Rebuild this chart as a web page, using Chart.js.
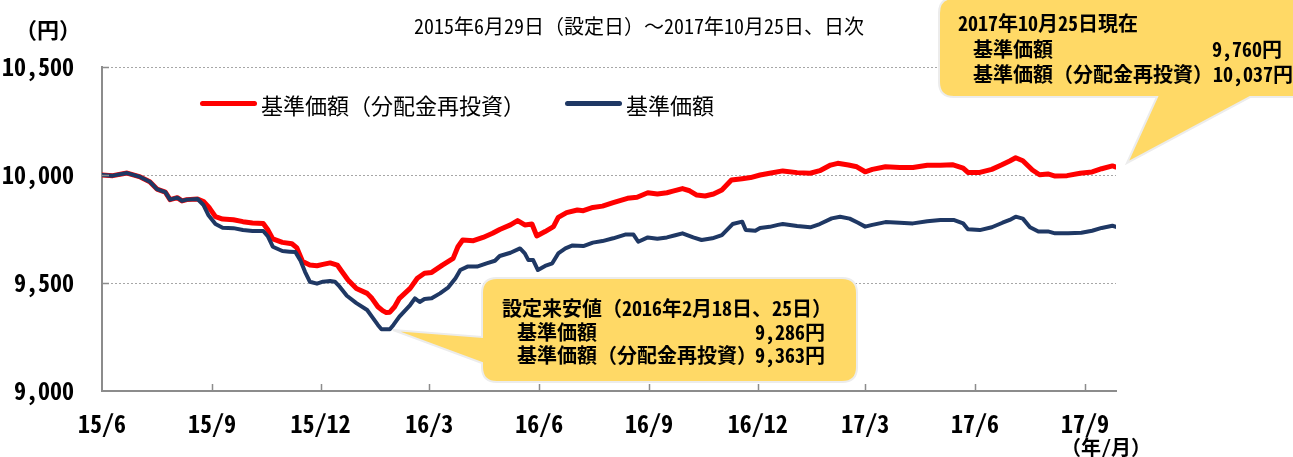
<!DOCTYPE html>
<html lang="ja">
<head>
<meta charset="utf-8">
<script src="https://cdn.jsdelivr.net/npm/chart.js@4.4.1/dist/chart.umd.min.js"></script>
<style>
  html, body { margin: 0; padding: 0; background: #fff; }
  #wrap {
    position: relative; width: 1293px; height: 457px; overflow: hidden;
    font-family: "Noto Sans Mono CJK JP", "Noto Sans CJK JP", sans-serif; color: #000;
  }
  #chart { position: absolute; left: 0; top: 0; }
  .txt { position: absolute; white-space: nowrap; line-height: 1; }
  .b { font-weight: bold; }
  #bubbles { position: absolute; left: 0; top: 0; }
  .leg-line { position: absolute; height: 5px; border-radius: 3px; }
</style>
</head>
<body>
<div id="wrap">
  <canvas id="chart" width="1293" height="457"></canvas>

  <div class="txt b" style="left:15px; top:17px; font-size:22px;">（円）</div>
  <div class="txt" style="left:639px; top:16px; font-size:20px; transform:translateX(-50%);">2015年6月29日（設定日）～2017年10月25日、日次</div>
  <div class="txt b" style="left:1061px; top:437px; font-size:20px;">（年/月）</div>

  <div id="legend"></div>

  <svg id="bubbles" width="1293" height="457">
    <path d="M497,278 H842 Q857,278 857,293 V367 Q857,382 842,382 H497 Q482,382 482,367 V363 L393,330 L482,337 V293 Q482,278 497,278 Z"
          fill="#FFD966" stroke="#ececec" stroke-width="2"/>
    <path d="M954,-2 H1310 V97 H1250 L1127,163 L1157,97 H954 Q939,97 939,82 V13 Q939,-2 954,-2 Z"
          fill="#FFD966" stroke="#ececec" stroke-width="2"/>
  </svg>

  <div class="txt b" style="left:502px; top:298px; font-size:20px;">設定来安値（2016年2月18日、25日）</div>
  <div class="txt b" style="left:517px; top:322px; font-size:20px;">基準価額</div>
  <div class="txt b" style="right:468px; top:322px; font-size:20px;">9,286円</div>
  <div class="txt b" style="left:517px; top:345px; font-size:20px;">基準価額（分配金再投資）</div>
  <div class="txt b" style="right:468px; top:345px; font-size:20px;">9,363円</div>

  <div class="txt b" style="left:958px; top:13px; font-size:20px;">2017年10月25日現在</div>
  <div class="txt b" style="left:973px; top:39px; font-size:20px;">基準価額</div>
  <div class="txt b" style="right:11px; top:39px; font-size:20px;">9,760円</div>
  <div class="txt b" style="left:973px; top:64px; font-size:20px;">基準価額（分配金再投資）10,037円</div>
</div>

<script>
// x = days since 2015/6/29 (launch date)
const tickDays = [0, 92, 183, 274, 366, 458, 549, 639, 731, 823];
const tickLabels = ["15/6", "15/9", "15/12", "16/3", "16/6", "16/9", "16/12", "17/3", "17/6", "17/9"];
const lastDay = 849; // 2017/10/25

const yTicks = [9000, 9500, 10000, 10500];

// 基準価額（分配金再投資）
const reinvestDays = [0, 9, 21, 32, 40, 46, 53, 57, 63, 67, 71, 80, 85, 90, 95, 101, 110, 118, 126, 135,
  139, 143, 151, 159, 163, 168, 174, 180, 185, 191, 197, 201, 206, 213, 222, 226, 231, 235, 238, 241,
  245, 249, 258, 264, 270, 276, 285, 294, 298, 302, 311, 319, 327, 333, 342, 348, 354, 360, 364, 371,
  378, 382, 389, 398, 403, 411, 419, 428, 440, 448, 457, 465, 473, 478, 486, 492, 498, 505, 512, 519,
  527, 536, 543, 551, 559, 570, 582, 593, 601, 610, 616, 625, 632, 639, 645, 656, 668, 679, 691, 702,
  712, 721, 725, 735, 745, 753, 760, 765, 771, 779, 785, 792, 798, 808, 819, 829, 837, 846, 849];
const reinvestValues = [10000, 9997, 10009, 9991, 9969, 9935, 9921, 9886, 9895, 9880, 9886, 9889, 9877, 9847, 9807, 9796, 9793, 9784, 9778, 9775,
  9745, 9704, 9688, 9682, 9664, 9599, 9583, 9580, 9586, 9593, 9583, 9552, 9514, 9475, 9452, 9429, 9390, 9372, 9363, 9365,
  9390, 9429, 9475, 9522, 9545, 9549, 9583, 9614, 9668, 9699, 9696, 9711, 9730, 9748, 9769, 9789, 9769, 9773, 9718, 9738,
  9761, 9804, 9826, 9838, 9835, 9850, 9856, 9872, 9892, 9897, 9918, 9912, 9918, 9925, 9937, 9927, 9907, 9903, 9912, 9931,
  9977, 9983, 9988, 10000, 10008, 10019, 10011, 10008, 10020, 10046, 10054, 10046, 10038, 10015, 10026, 10038, 10035, 10035, 10045, 10045,
  10048, 10032, 10012, 10012, 10026, 10046, 10065, 10080, 10066, 10023, 10001, 10005, 9995, 9997, 10008, 10014, 10029, 10042, 10037];

// 基準価額
const navDays = [0, 9, 21, 32, 40, 46, 53, 57, 63, 67, 71, 80, 85, 89, 95, 101, 110, 118, 126, 135,
  139, 143, 151, 157, 162, 166, 170, 174, 180, 185, 191, 195, 199, 205, 213, 222, 226, 231, 234, 241,
  244, 249, 258, 262, 266, 270, 276, 283, 290, 296, 300, 306, 314, 322, 329, 333, 342, 350, 354, 357,
  361, 365, 371, 377, 382, 388, 394, 403, 411, 419, 428, 438, 445, 449, 457, 465, 473, 480, 486, 495,
  502, 511, 519, 528, 536, 539, 547, 551, 559, 566, 570, 582, 593, 601, 611, 618, 626, 633, 639, 645,
  656, 668, 679, 691, 702, 713, 721, 725, 735, 745, 754, 760, 765, 771, 777, 784, 792, 798, 809, 820,
  829, 837, 846, 849];
const navValues = [10000, 9997, 10009, 9991, 9969, 9935, 9921, 9886, 9895, 9880, 9886, 9889, 9861, 9815, 9773, 9756, 9754, 9745, 9741, 9741,
  9715, 9668, 9648, 9645, 9643, 9606, 9552, 9506, 9497, 9506, 9509, 9506, 9483, 9441, 9407, 9375, 9344, 9306, 9286, 9286,
  9306, 9344, 9398, 9429, 9412, 9426, 9429, 9452, 9480, 9522, 9560, 9576, 9576, 9591, 9603, 9625, 9640, 9660, 9637, 9606,
  9606, 9560, 9579, 9591, 9637, 9660, 9674, 9671, 9687, 9694, 9707, 9724, 9724, 9691, 9711, 9705, 9711, 9721, 9730, 9711,
  9699, 9707, 9722, 9773, 9784, 9745, 9742, 9755, 9760, 9769, 9773, 9764, 9758, 9773, 9799, 9807, 9798, 9779, 9761, 9769,
  9782, 9779, 9776, 9786, 9792, 9792, 9776, 9749, 9745, 9758, 9779, 9792, 9807, 9798, 9758, 9738, 9739, 9730, 9730, 9733,
  9742, 9755, 9765, 9760];

const axisColor = "#8c8c8c";
const tickFont = { family: '"Noto Sans Mono CJK JP", "Noto Sans CJK JP", sans-serif', size: 24, weight: "bold" };

function toPoints(days, values) {
  return days.map((d, i) => ({ x: d, y: values[i] }));
}

// 軸の内側に目盛り線を描く
const innerTicks = {
  id: "innerTicks",
  afterDraw(chart) {
    const { ctx, scales: { x, y } } = chart;
    ctx.save();
    ctx.strokeStyle = axisColor;
    ctx.lineWidth = 1.5;
    ctx.beginPath();
    tickDays.slice(1).forEach((d) => {
      const px = Math.round(x.getPixelForValue(d)) + 0.5;
      ctx.moveTo(px, y.bottom);
      ctx.lineTo(px, y.bottom - 7);
    });
    yTicks.slice(1).forEach((v) => {
      const py = Math.round(y.getPixelForValue(v)) + 0.5;
      ctx.moveTo(x.left, py);
      ctx.lineTo(x.left + 7, py);
    });
    ctx.stroke();
    ctx.restore();
  },
};

const chart = new Chart(document.getElementById("chart"), {
  type: "line",
  data: {
    datasets: [
      {
        label: "基準価額（分配金再投資）",
        data: toPoints(reinvestDays, reinvestValues),
        borderColor: "#ff0000",
        borderWidth: 5,
        order: 1,
      },
      {
        label: "基準価額",
        data: toPoints(navDays, navValues),
        borderColor: "#1f3864",
        borderWidth: 4,
        order: 0,
      },
    ],
  },
  options: {
    responsive: false,
    animation: false,
    devicePixelRatio: 1,
    layout: { padding: { left: 0, right: 177, top: 67, bottom: 0 } },
    elements: {
      point: { radius: 0 },
      line: { tension: 0, borderJoinStyle: "round", borderCapStyle: "round" },
    },
    plugins: { legend: { display: false }, tooltip: { enabled: false } },
    scales: {
      x: {
        type: "linear",
        min: 0,
        max: lastDay,
        afterBuildTicks: (scale) => {
          scale.ticks = tickDays.map((v) => ({ value: v }));
        },
        afterFit: (scale) => { scale.height = 66; },
        grid: { display: false },
        border: { display: true, color: axisColor, width: 2 },
        ticks: {
          autoSkip: false,
          maxRotation: 0,
          padding: 10,
          color: "#000",
          font: tickFont,
          callback: (value) => tickLabels[tickDays.indexOf(value)],
        },
      },
      y: {
        min: 9000,
        max: 10500,
        afterBuildTicks: (scale) => {
          scale.ticks = yTicks.map((v) => ({ value: v }));
        },
        afterFit: (scale) => { scale.width = 102; },
        grid: { color: "#a6a6a6", lineWidth: 1, drawTicks: false },
        border: { display: true, color: axisColor, width: 2, dash: [2, 2] },
        ticks: {
          padding: 28,
          color: "#000",
          font: tickFont,
          callback: (value) => value.toLocaleString("en-US"),
        },
      },
    },
  },
  plugins: [innerTicks],
});

// 凡例（HTML）
const legendPos = [200, 565];
const legend = document.getElementById("legend");
chart.data.datasets.forEach((ds, i) => {
  const line = document.createElement("div");
  line.className = "leg-line";
  line.style.cssText = `left:${legendPos[i]}px; top:101px; width:57px; background:${ds.borderColor};`;
  legend.appendChild(line);
  const label = document.createElement("div");
  label.className = "txt";
  label.style.cssText = `left:${legendPos[i] + 61}px; top:93px; font-size:22px;`;
  label.textContent = ds.label;
  legend.appendChild(label);
});
</script>
</body>
</html>
